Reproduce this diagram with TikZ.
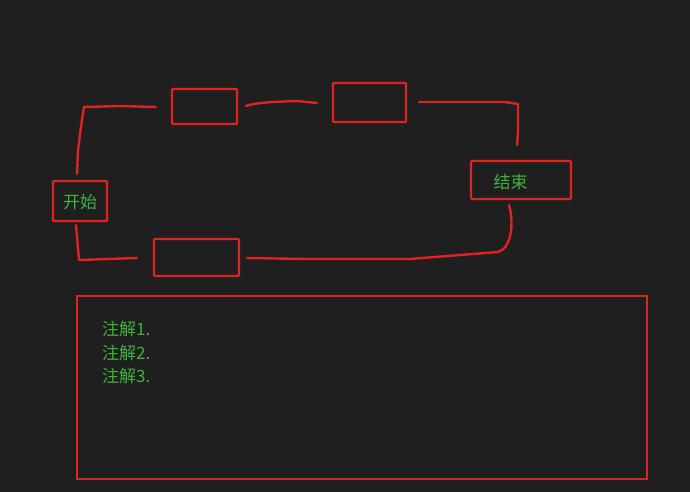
\documentclass[tikz,border=0pt]{standalone}
\usepackage{fontspec}
\setmainfont{Noto Sans CJK SC}
\definecolor{bg}{HTML}{1F1F1F}
\definecolor{pen}{HTML}{E02222}
\definecolor{txt}{HTML}{3CB43C}
\begin{document}
\begin{tikzpicture}[x=1pt,y=-1pt,
  box/.style={draw=pen,line width=2.4pt,rounded corners=1pt,inner sep=0pt},
  wire/.style={draw=pen,line width=2.4pt,line cap=round,line join=round},
  lbl/.style={text=txt,font=\fontsize{17}{20}\selectfont,inner sep=0pt}]
\fill[bg] (0,0) rectangle (690,492);
\useasboundingbox (0,0) rectangle (690,492);
% boxes
\node[box,minimum width=65pt,minimum height=35pt] (b1) at (204.5,106.5) {};
\node[box,minimum width=73pt,minimum height=39pt] (b2) at (369.5,102.5) {};
\node[box,minimum width=54pt,minimum height=40pt] (start) at (80,201) {};
\node[lbl] at (80,202) {开始};
\node[box,minimum width=85pt,minimum height=37pt] (b3) at (196.5,257.5) {};
\node[box,minimum width=100pt,minimum height=38pt] (end) at (521,180) {};
\node[lbl] at (510.5,182) {结束};
\node[box,minimum width=570pt,minimum height=183pt,rounded corners=0pt] (note) at (362,387.5) {};
\node[lbl,anchor=west] at (102,329) {注解1.};
\node[lbl,anchor=west] at (102,353) {注解2.};
\node[lbl,anchor=west] at (102,376) {注解3.};
% free ends of hand-drawn lines
\coordinate (l1a) at (156,107);
\coordinate (l1b) at (77,174);
\coordinate (l2a) at (76,225);
\coordinate (l2b) at (137,258);
\coordinate (l3a) at (246,106);
\coordinate (l3b) at (317,103);
\coordinate (l4a) at (419,102);
\coordinate (l4b) at (517,145);
\coordinate (l5a) at (509,205);
\coordinate (l5b) at (247,258);
\draw[wire] (l1a) -- (120,106) -- (84,107) .. controls (81,125) and (80,135) .. (78,150) -- (l1b);
\draw[wire] (l2a) -- (79,260) -- (l2b);
\draw[wire] (l3a) .. controls (256,103) and (262,103) .. (272,102) -- (297,101) -- (l3b);
\draw[wire] (l4a) -- (505,102) -- (518,104) -- (518,132) -- (l4b);
\draw[wire] (l5a) .. controls (514,222) and (512,248) .. (498,252) -- (460,255) -- (410,259) -- (307,259) -- (l5b);
\end{tikzpicture}
\end{document}
